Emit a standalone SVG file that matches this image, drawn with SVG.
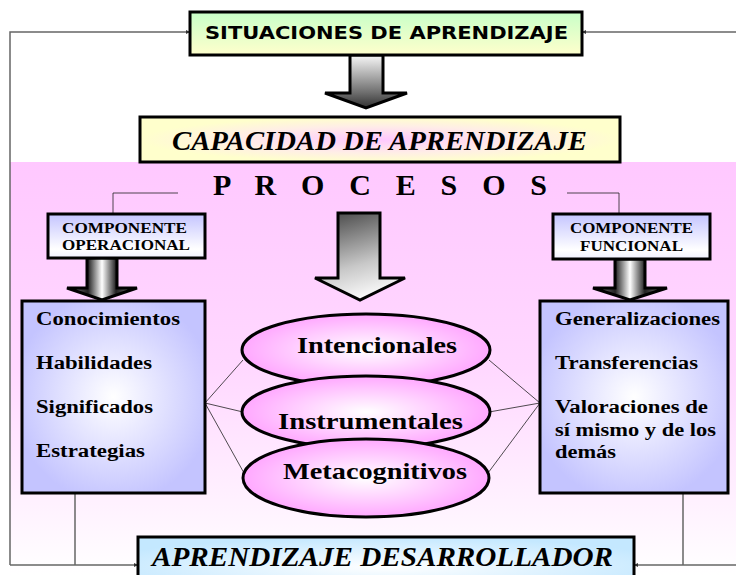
<svg xmlns="http://www.w3.org/2000/svg" width="736" height="575" viewBox="0 0 736 575">
<style>
.box{stroke:#000;stroke-width:3}
.sf{font-family:"Liberation Serif","Times New Roman",serif;font-weight:bold;fill:#000}
.sfi{font-family:"Liberation Serif","Times New Roman",serif;font-weight:bold;font-style:italic;fill:#000}
.ss{font-family:"DejaVu Sans",Verdana,sans-serif;font-weight:bold;fill:#000}
.frame{stroke:#666;stroke-width:1.5;fill:none}
.thin{stroke:#222;stroke-width:0.8;fill:none}
.arrow{stroke:#000;stroke-width:3;stroke-linejoin:miter}
</style>
<defs>
<linearGradient id="gPink" x1="0" y1="0" x2="0" y2="1">
<stop offset="0" stop-color="#FFC8FF"/>
<stop offset="0.5" stop-color="#FFD8FF"/>
<stop offset="1" stop-color="#FFFFFF"/>
</linearGradient>
<linearGradient id="gSit" x1="0" y1="0" x2="0" y2="1">
<stop offset="0" stop-color="#C8FFC8"/>
<stop offset="1" stop-color="#FFFFCC"/>
</linearGradient>
<radialGradient id="gCap" cx="0.5" cy="0.5" r="0.5">
<stop offset="0" stop-color="#FFC8FF"/>
<stop offset="0.6" stop-color="#FFEEE6"/>
<stop offset="1" stop-color="#FFFFCC"/>
</radialGradient>
<linearGradient id="gComp" x1="0" y1="0" x2="0" y2="1">
<stop offset="0" stop-color="#C4C4FF"/>
<stop offset="0.8" stop-color="#FFFFFF"/>
<stop offset="1" stop-color="#F0F0FF"/>
</linearGradient>
<radialGradient id="gBox" cx="0.5" cy="0.5" r="0.55">
<stop offset="0" stop-color="#FFFFFF"/>
<stop offset="1" stop-color="#C4C4FF"/>
</radialGradient>
<radialGradient id="gEll" cx="0.5" cy="0.5" r="0.5">
<stop offset="0" stop-color="#FFFFFF"/>
<stop offset="1" stop-color="#FFA8FF"/>
</radialGradient>
<radialGradient id="gApr" cx="0.5" cy="0.6" r="0.6">
<stop offset="0" stop-color="#FFFFFF"/>
<stop offset="1" stop-color="#C4E8FF"/>
</radialGradient>
<linearGradient id="gArrTop" x1="0" y1="0" x2="0" y2="1">
<stop offset="0" stop-color="#F8F8F8"/>
<stop offset="0.7" stop-color="#707070"/>
<stop offset="1" stop-color="#303030"/>
</linearGradient>
<linearGradient id="gArrMid" x1="0.3" y1="0" x2="0.6" y2="1">
<stop offset="0" stop-color="#505050"/>
<stop offset="0.6" stop-color="#C8C8C8"/>
<stop offset="1" stop-color="#FFFFFF"/>
</linearGradient>
<linearGradient id="gArrSm" x1="0" y1="0" x2="1" y2="0">
<stop offset="0" stop-color="#888"/>
<stop offset="0.3" stop-color="#222"/>
<stop offset="0.5" stop-color="#FFFFFF"/>
<stop offset="0.7" stop-color="#222"/>
<stop offset="1" stop-color="#888"/>
</linearGradient>
<marker id="mk" markerWidth="4" markerHeight="4" refX="4" refY="2" orient="auto" markerUnits="userSpaceOnUse">
<path d="M0,0 L4,2 L0,4 Z" fill="#333"/>
</marker>
</defs>

<rect x="0" y="0" width="736" height="575" fill="#FFFFFF"/>
<rect x="10" y="162" width="726" height="413" fill="url(#gPink)"/>

<g id="connectors">
<path class="frame" d="M10,565 V32 H190" marker-end="url(#mk)"/>
<path class="frame" d="M736,32 H582" marker-end="url(#mk)"/>
<path class="frame" d="M10,565 H138" marker-end="url(#mk)"/>
<path class="frame" d="M736,565 H634" marker-end="url(#mk)"/>
<path class="frame" d="M75,493 V565"/>
<path class="frame" d="M683,493 V565"/>
<path class="thin" d="M178,193 H113 V213"/>
<path class="thin" d="M567,193 H619 V213"/>
<path class="thin" d="M205,403 L243,360 M205,403 L243,412 M205,403 L244,473"/>
<path class="thin" d="M540,403 L489,360 M540,403 L489,412 M540,403 L488,473"/>
<path id="arrow-top" class="arrow" fill="url(#gArrTop)" d="M350,55 H383 V93 H407 L366,108 L325,93 H350 Z"/>
<path id="arrow-mid" class="arrow" fill="url(#gArrMid)" d="M338,213 H380 V278 H405 L360,300 L315,278 H338 Z"/>
<path id="arrow-left" class="arrow" fill="url(#gArrSm)" d="M87,258 H117 V288 H137 L102,300 L67,288 H87 Z"/>
<path id="arrow-right" class="arrow" fill="url(#gArrSm)" d="M615,259 H645 V288 H667 L630,300 L593,288 H615 Z"/>
</g>

<g id="situaciones">
<rect class="box" x="190" y="12" width="392" height="43" fill="url(#gSit)"/>
<text class="ss" x="205" y="39" font-size="17" textLength="363" lengthAdjust="spacingAndGlyphs">SITUACIONES DE APRENDIZAJE</text>
</g>

<g id="capacidad">
<rect class="box" x="140" y="117" width="480" height="45" fill="url(#gCap)"/>
<text class="sfi" x="172" y="150" font-size="27" textLength="415" lengthAdjust="spacingAndGlyphs">CAPACIDAD DE APRENDIZAJE</text>
</g>

<g id="procesos">
<text class="sf" x="213" y="195" font-size="30" textLength="334" lengthAdjust="spacing">P R O C E S O S</text>
</g>

<g id="comp-operacional">
<rect class="box" x="48" y="214" width="157" height="44" fill="url(#gComp)"/>
<text class="sf" x="62" y="233" font-size="14" textLength="125" lengthAdjust="spacingAndGlyphs">COMPONENTE</text>
<text class="sf" x="62" y="250" font-size="14" textLength="128" lengthAdjust="spacingAndGlyphs">OPERACIONAL</text>
</g>

<g id="comp-funcional">
<rect class="box" x="553" y="214" width="157" height="45" fill="url(#gComp)"/>
<text class="sf" x="570" y="233" font-size="14" textLength="123" lengthAdjust="spacingAndGlyphs">COMPONENTE</text>
<text class="sf" x="580" y="251" font-size="14" textLength="103" lengthAdjust="spacingAndGlyphs">FUNCIONAL</text>
</g>

<g id="operacional-box">
<rect class="box" x="22" y="301" width="183" height="192" fill="url(#gBox)"/>
<text class="sf" x="36" y="325" font-size="18" textLength="144" lengthAdjust="spacingAndGlyphs">Conocimientos</text>
<text class="sf" x="36" y="369" font-size="18" textLength="116" lengthAdjust="spacingAndGlyphs">Habilidades</text>
<text class="sf" x="36" y="413" font-size="18" textLength="117" lengthAdjust="spacingAndGlyphs">Significados</text>
<text class="sf" x="36" y="457" font-size="18" textLength="109" lengthAdjust="spacingAndGlyphs">Estrategias</text>
</g>

<g id="funcional-box">
<rect class="box" x="540" y="301" width="188" height="192" fill="url(#gBox)"/>
<text class="sf" x="555" y="325" font-size="18" textLength="165" lengthAdjust="spacingAndGlyphs">Generalizaciones</text>
<text class="sf" x="555" y="369" font-size="18" textLength="143" lengthAdjust="spacingAndGlyphs">Transferencias</text>
<text class="sf" x="555" y="413" font-size="18" textLength="153" lengthAdjust="spacingAndGlyphs">Valoraciones de</text>
<text class="sf" x="555" y="436" font-size="18" textLength="161" lengthAdjust="spacingAndGlyphs">sí mismo y de los</text>
<text class="sf" x="555" y="458" font-size="18" textLength="61" lengthAdjust="spacingAndGlyphs">demás</text>
</g>

<g id="intencionales">
<ellipse class="box" cx="366" cy="350" rx="124" ry="36" fill="url(#gEll)"/>
<text class="sf" x="297" y="353" font-size="24" textLength="160" lengthAdjust="spacingAndGlyphs">Intencionales</text>
</g>

<g id="instrumentales">
<ellipse class="box" cx="366" cy="412" rx="124" ry="36" fill="url(#gEll)"/>
<text class="sf" x="278" y="429" font-size="24" textLength="185" lengthAdjust="spacingAndGlyphs">Instrumentales</text>
</g>

<g id="metacognitivos">
<ellipse class="box" cx="366" cy="478" rx="123" ry="39" fill="url(#gEll)"/>
<text class="sf" x="283" y="479" font-size="24" textLength="184" lengthAdjust="spacingAndGlyphs">Metacognitivos</text>
</g>

<g id="aprendizaje-desarrollador">
<rect class="box" x="138" y="537" width="496" height="50" fill="url(#gApr)"/>
<text class="sfi" x="152" y="566" font-size="27" textLength="461" lengthAdjust="spacingAndGlyphs">APRENDIZAJE  DESARROLLADOR</text>
</g>
</svg>
